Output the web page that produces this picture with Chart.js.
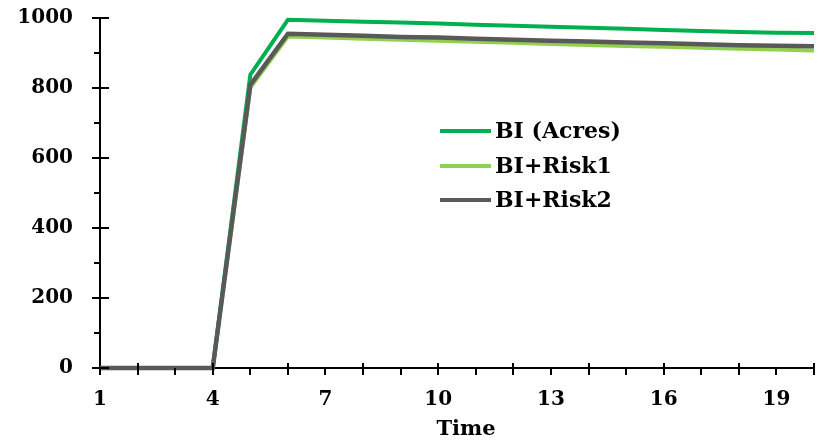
<!DOCTYPE html>
<html>
<head>
<meta charset="utf-8">
<script src="https://cdn.jsdelivr.net/npm/chart.js@4/dist/chart.umd.min.js"></script>
<style>
  html, body { margin: 0; padding: 0; background: #fff; }
  #wrap { width: 824px; height: 444px; position: relative; }
</style>
</head>
<body>
<div id="wrap"><canvas id="c"></canvas></div>
<script>
// Time steps
const timeSteps = ['1','2','3','4','5','6','7','8','9','10','11','12','13','14','15','16','17','18','19','20'];

// Burned area series
const biAcres = [0, 0, 0, 0, 838, 995, 992, 989, 987, 984, 981, 978, 975, 972, 969, 966, 963, 960, 958, 957];
const biRisk1 = [0, 0, 0, 0, 801, 947, 944, 941, 938, 935, 932, 929, 926, 923, 920, 918, 915, 912, 910, 907];
const biRisk2 = [0, 0, 0, 0, 809, 955, 952, 949, 946, 944, 941, 938, 935, 933, 930, 928, 925, 922, 921, 919];

const seriesNames = ['BI (Acres)', 'BI+Risk1', 'BI+Risk2'];
const seriesColors = ['#00B050', '#92D050', '#595959'];

// Value axis
const yMin = 0, yMax = 1000, yMajorStep = 200, yMinorStep = 100;
const xTitle = 'Time';

const FONT = '"DejaVu Serif", "Liberation Serif", serif';

// Draws the crossing / outside tick marks on both axes and the axis title
const tickMarks = {
  id: 'tickMarks',
  afterDraw(chart) {
    const ctx = chart.ctx;
    const x = chart.scales.x, y = chart.scales.y;
    const axisY = x.top, axisX = y.right;
    ctx.save();
    ctx.strokeStyle = '#000';
    ctx.lineWidth = 2;
    ctx.beginPath();
    for (let i = 0; i < timeSteps.length; i++) {
      const px = Math.round(x.getPixelForValue(i));
      const crossing = (Number(timeSteps[i]) % 2 === 0);
      ctx.moveTo(px, axisY + 7);
      ctx.lineTo(px, crossing ? axisY - 5 : axisY);
    }
    for (let v = yMin; v <= yMax; v += yMinorStep) {
      const py = Math.round(y.getPixelForValue(v));
      if (v % yMajorStep === 0) {
        ctx.moveTo(axisX - 8, py);
        ctx.lineTo(axisX + 9, py);
      } else {
        ctx.moveTo(axisX - 6, py);
        ctx.lineTo(axisX, py);
      }
    }
    ctx.stroke();
    ctx.fillStyle = '#000';
    ctx.font = 'bold 21px ' + FONT;
    ctx.textAlign = 'center';
    ctx.textBaseline = 'middle';
    ctx.fillText(xTitle, 466, 430);
    ctx.restore();
  }
};

// Legend drawn inside the plot area
const innerLegend = {
  id: 'innerLegend',
  afterDraw(chart) {
    const ctx = chart.ctx;
    const rows = [131, 166, 200];
    ctx.save();
    chart.data.datasets.forEach((ds, i) => {
      const yy = rows[i];
      ctx.strokeStyle = ds.borderColor;
      ctx.lineWidth = 4;
      ctx.beginPath();
      ctx.moveTo(440, yy);
      ctx.lineTo(491, yy);
      ctx.stroke();
      ctx.fillStyle = '#000';
      ctx.font = 'bold 22px ' + FONT;
      ctx.textBaseline = 'middle';
      ctx.textAlign = 'left';
      ctx.fillText(ds.label, 495, yy + 1);
    });
    ctx.restore();
  }
};

const hiddenTickGrid = {
  display: true,
  drawOnChartArea: false,
  drawTicks: true,
  color: 'rgba(0,0,0,0)',
  tickColor: 'rgba(0,0,0,0)'
};

new Chart(document.getElementById('c'), {
  type: 'line',
  data: {
    labels: timeSteps,
    datasets: [
      { label: seriesNames[0], data: biAcres, borderColor: seriesColors[0], borderWidth: 4, order: 1, clip: false },
      { label: seriesNames[1], data: biRisk1, borderColor: seriesColors[1], borderWidth: 4, order: 2, clip: false },
      { label: seriesNames[2], data: biRisk2, borderColor: seriesColors[2], borderWidth: 4.5, order: 0, clip: false }
    ]
  },
  options: {
    responsive: true,
    maintainAspectRatio: false,
    animation: false,
    layout: { padding: { top: 18, right: 10, left: 0, bottom: 0 } },
    elements: {
      point: { radius: 0, hoverRadius: 0 },
      line: { tension: 0, borderJoinStyle: 'miter', borderCapStyle: 'butt', fill: false }
    },
    plugins: {
      legend: { display: false },
      tooltip: { enabled: false }
    },
    scales: {
      x: {
        type: 'category',
        offset: false,
        grid: Object.assign({ tickLength: 17 }, hiddenTickGrid),
        border: { display: true, color: '#000', width: 2 },
        ticks: {
          autoSkip: false,
          maxRotation: 0,
          padding: 3,
          color: '#000',
          font: { family: FONT, size: 20, weight: 'bold' },
          callback: (v, i) => (i % 3 === 0 ? timeSteps[i] : '')
        },
        afterFit: s => { s.height = 76; }
      },
      y: {
        min: yMin,
        max: yMax,
        grid: Object.assign({ tickLength: 24 }, hiddenTickGrid),
        border: { display: true, color: '#000', width: 2 },
        ticks: {
          stepSize: yMajorStep,
          padding: 3,
          color: '#000',
          font: { family: FONT, size: 20, weight: 'bold' },
          callback: v => String(v)
        },
        afterFit: s => { s.width = 100; }
      }
    }
  },
  plugins: [tickMarks, innerLegend]
});
</script>
</body>
</html>
